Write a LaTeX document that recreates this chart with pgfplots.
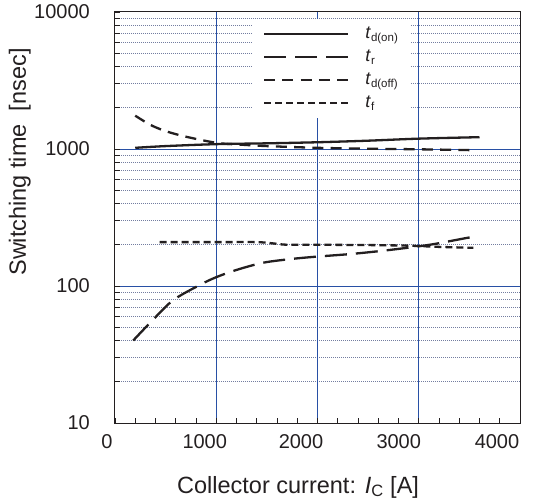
\documentclass[border=0pt]{standalone}
\usepackage{fontspec}
\setmainfont{Liberation Sans}
\usepackage{pgfplots}
\pgfplotsset{compat=1.18}
\definecolor{ink}{RGB}{35,31,32}
\definecolor{gridblue}{RGB}{40,80,165}
\definecolor{minorgrid}{RGB}{115,125,160}
\newcommand{\sub}[1]{\raisebox{-3pt}{\fontsize{11.5}{13}\selectfont #1}}
\begin{document}
\begin{tikzpicture}
\begin{axis}[
  scale only axis, width=405pt, height=411pt,
  xmin=0, xmax=4000, ymode=log, ymin=10, ymax=10000,
  xtick={0,1000,2000,3000,4000},
  xticklabels={\kern-16pt 0, \kern-23pt 1000, \kern-33pt 2000, \kern-40pt 3000, \kern-46pt 4000},
  minor xtick={200,400,600,800,1200,1400,1600,1800,2200,2400,2600,2800,3200,3400,3600,3800},
  ytick={10,100,1000,10000}, yticklabels={10,100,1000,10000},
  minor ytick={20,30,40,50,60,70,80,90,200,300,400,500,600,700,800,900,2000,3000,4000,5000,6000,7000,8000,9000},
  extra x ticks={1000,2000,3000}, extra x tick labels={},
  extra y ticks={100,1000}, extra y tick labels={},
  extra tick style={grid=major, major grid style={gridblue, line width=0.8pt}},
  tick pos=left, tick align=inside,
  major tick length=5pt, minor tick length=5pt,
  every tick/.style={ink, line width=0.8pt},
  axis line style={ink, line width=1pt},
  yminorgrids,
  minor grid style={minorgrid, line width=0.6pt, dash pattern=on 1pt off 1pt},
  tick label style={font=\fontsize{20}{24}\selectfont, text=ink},
  xticklabel style={anchor=north, inner sep=0pt, yshift=-11pt},
  yticklabel style={anchor=east, inner sep=0pt, xshift=-25pt},
  xlabel={Collector current: \textit{I}\textsubscript{C} [A]},
  xlabel style={font=\fontsize{23.5}{28}\selectfont, text=ink, at={(axis description cs:0.452,-0.156)}, anchor=center},
  ylabel={Switching time\ \ [nsec]},
  ylabel style={font=\fontsize{23.5}{28}\selectfont, text=ink, at={(axis description cs:-0.235,0.635)}, anchor=center},
  legend style={at={(axis description cs:0.338,0.984)}, anchor=north west, draw=none, fill=white,
    inner xsep=11pt, inner ysep=3.5pt, row sep=0pt, column sep=15pt, font=\fontsize{18}{22}\selectfont, text=ink,
    nodes={inner sep=1pt, text height=15pt, text depth=6pt, anchor=west}},
  legend cell align=left,
  legend image code/.code={\draw[#1] (0pt,0pt) -- (84pt,0pt);},
  every axis plot/.append style={ink, line width=2.3pt},
]
\coordinate (O) at (rel axis cs:0,0);
\addplot[smooth] coordinates {(200,1020) (500,1050) (1000,1085) (1500,1100) (2000,1120) (2500,1150) (3000,1190) (3600,1220)};
\addlegendentry{\textit{t}\sub{d(on)}}
\addplot[smooth, dash pattern=on 22pt off 9pt] coordinates {(180,40) (378,57) (576,79) (840,102) (1000,116) (1200,131) (1465,148) (1760,158) (2000,164) (2320,171) (2620,180) (2910,191) (3145,202) (3470,224) (3590,232)};
\addlegendentry{\textit{t}\sub{r}}
\addplot[smooth, dash pattern=on 11pt off 7.25pt] coordinates {(200,1750) (350,1500) (500,1350) (700,1230) (1000,1110) (1250,1075) (1500,1050) (2000,1020) (2500,1005) (3000,995) (3550,980)};
\addlegendentry{\textit{t}\sub{d(off)}}
\addplot[smooth, dash pattern=on 7pt off 4pt] coordinates {(440,209) (1000,209) (1400,209) (1550,205) (1700,200) (2000,200) (2500,199) (2900,197) (3200,193) (3540,190)};
\addlegendentry{\textit{t}\sub{f}}
\end{axis}
\pgfresetboundingbox
\path (O) ++(-115pt,-76pt) rectangle ++(544pt,499pt);
\end{tikzpicture}
\end{document}
